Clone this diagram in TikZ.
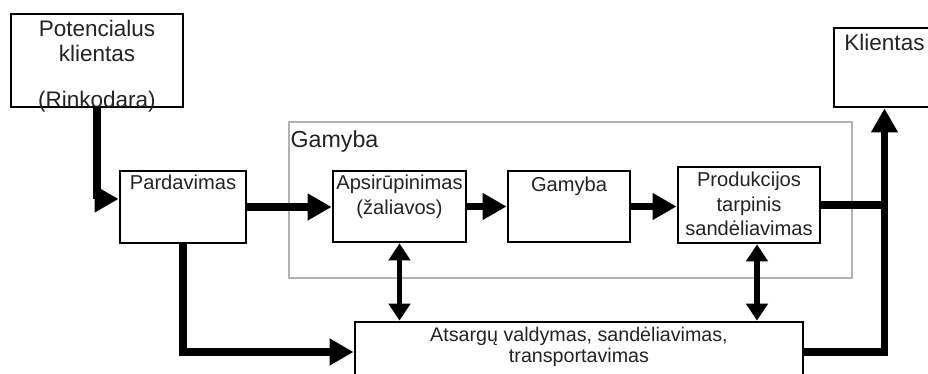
\documentclass[tikz,border=0pt]{standalone}
\usepackage{fontspec}
\setmainfont{Liberation Sans}
\usetikzlibrary{positioning,calc}
\usetikzlibrary{arrows.meta}
\definecolor{InkGray}{RGB}{35,35,35}
\definecolor{FrameGray}{RGB}{178,178,178}
\tikzset{
  box/.style={draw=black,line width=2pt,inner sep=0pt},
  txt/.style={inner sep=0pt,align=center,text=InkGray,font=\fontsize{14.3}{17.5}\selectfont},
  bigtxt/.style={inner sep=0pt,align=center,text=InkGray,font=\fontsize{16}{17.7}\selectfont},
  flow/.style={draw=black,line width=5pt,-{Triangle[length=17pt,width=18pt]}},
  flowline/.style={draw=black,line width=5pt},
  dflow/.style={draw=black,line width=3.8pt,
    {Triangle[length=12pt,width=15pt]}-{Triangle[length=12pt,width=15pt]}},
  frame/.style={draw=FrameGray,line width=1.4pt},
}

\begin{document}
\begin{tikzpicture}
\useasboundingbox (0,0) rectangle (23.2,9.35);
% gray frame of the production part
\draw[frame] (7.225,2.4) rectangle (21.3,6.3);
\node[bigtxt,anchor=north west,font=\fontsize{16.5}{18}\selectfont] (frame-t) at (7.26,6.1) {Gamyba};
% boxes
\node[box,minimum width=4.3cm,minimum height=2.325cm] (pot) at (2.425,7.8375) {};
\node[box,minimum width=3.15cm,minimum height=1.8cm] (pard) at (4.575,4.175) {};
\node[box,minimum width=3.325cm,minimum height=1.775cm] (aps) at (9.9875,4.1875) {};
\node[box,minimum width=3.05cm,minimum height=1.775cm] (gam) at (14.225,4.1875) {};
\node[box,minimum width=3.55cm,minimum height=1.9cm] (prod) at (18.725,4.225) {};
\node[box,minimum width=2.525cm,minimum height=1.975cm] (kli) at (22.1125,7.6625) {};
\node[box,minimum width=11.2cm,minimum height=1.5cm] (ats) at (14.475,0.55) {};
% texts
\node[bigtxt,below=0.175cm of pot.north] (pot-t) {Potencialus\\klientas\\[15pt](Rinkodara)};
\node[txt,below=0.13cm of pard.north] (pard-t) {Pardavimas};
\node[txt,below=0.13cm of aps.north] (aps-t) {Apsirūpinimas\\(žaliavos)};
\node[txt,below=0.17cm of gam.north] (gam-t) {Gamyba};
\node[txt,below=0.15cm of prod.north] (prod-t) {Produkcijos\\tarpinis\\sandėliavimas};
\node[bigtxt,below=0.175cm of kli.north] (kli-t) {Klientas};
\node[txt,below=0.15cm of ats.north,font=\fontsize{14}{15}\selectfont] (ats-t) {Atsargų valdymas, sandėliavimas,\\transportavimas};
% connectors
\draw[flow] (pot.south) |- ([yshift=0.2cm]pard.west);
\draw[flow] (pard.east) -- (pard.east -| aps.west);
\draw[flow] (aps.east) -- (gam.west);
\draw[flow] (gam.east) -- (gam.east -| prod.west);
\draw[flowline] (prod.east) -- (prod.east -| kli.south);
\draw[flow] (ats.east) -| (kli.south);
\draw[flow] (pard.south) |- (ats.west);
\draw[dflow] (aps.south) -- (aps.south |- ats.north);
\draw[dflow] ([xshift=0.2cm]prod.south) -- ([xshift=0.2cm]prod.south |- ats.north);
\end{tikzpicture}
\end{document}
